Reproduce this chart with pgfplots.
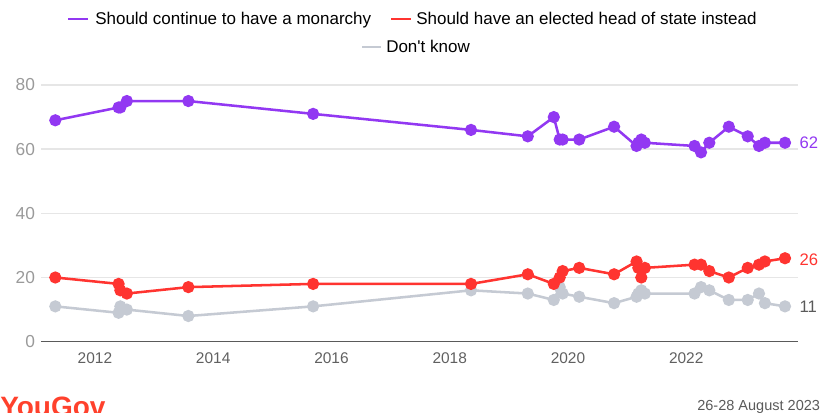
\documentclass[border=0pt]{standalone}
\usepackage{pgfplots}
\pgfplotsset{compat=1.18}
\usepackage{fontspec}
\setmainfont{Liberation Sans}[Ligatures=TeXOff]
\definecolor{mon}{HTML}{9238F2}
\definecolor{rep}{HTML}{FF3430}
\definecolor{dk}{HTML}{C5CAD3}
\definecolor{dklab}{HTML}{5A5A5A}
\definecolor{ytl}{HTML}{9A9A9A}
\definecolor{xtl}{HTML}{606060}
\definecolor{grd}{HTML}{E6E6E6}
\definecolor{ygov}{HTML}{FF412C}

\pgfplotstableread{
x      mon rep dk
2011.33 69 20 11
2012.40 73 18 9
2012.43 73 16 11
2012.54 75 15 10
2013.58 75 17 8
2015.69 71 18 11
2018.36 66 18 16
2019.32 64 21 15
2019.76 70 18 13
2019.86 63 20 17
2019.91 63 22 15
2020.19 63 23 14
2020.78 67 21 12
2021.16 61 25 14
2021.19 62 23 15
2021.24 63 20 16
2021.30 62 23 15
2022.14 61 24 15
2022.25 59 24 17
2022.39 62 22 16
2022.72 67 20 13
2023.04 64 23 13
2023.23 61 24 15
2023.33 62 25 12
2023.67 62 26 11
}\polls

\begin{document}
\begin{tikzpicture}
\useasboundingbox (0,0) rectangle (615pt,309.75pt);
\begin{axis}[
  at={(30.75pt,53.5pt)}, anchor=south west,
  scale only axis, width=567.75pt, height=192.5pt,
  xmin=2011.088, xmax=2023.89, ymin=0, ymax=80,
  clip=false,
  axis line style={draw=none},
  major tick length=0pt,
  ymajorgrids, grid style={grd, line width=1.1pt},
  ytick={0,20,40,60,80},
  xtick={2012,2014,2016,2018,2020,2022},
  /pgf/number format/assume math mode=true,
  /pgf/number format/1000 sep={},
  yticklabel style={font=\fontsize{13}{15}\selectfont, text=ytl, xshift=-1pt},
  xticklabel style={font=\fontsize{11.6}{14}\selectfont, text=xtl, yshift=-5pt},
]
\draw[dklab, line width=1.1pt] (rel axis cs:0,0) -- (rel axis cs:1,0);
\addplot[dk, line width=1.9pt, mark=*, mark size=3.6pt] table[x=x, y=dk] {\polls};
\addplot[rep, line width=1.9pt, mark=*, mark size=3.6pt] table[x=x, y=rep] {\polls};
\addplot[mon, line width=1.9pt, mark=*, mark size=3.6pt] table[x=x, y=mon] {\polls};
\node[anchor=west, inner sep=0pt, text=mon, font=\fontsize{12.5}{14}\selectfont, xshift=1pt] at (axis cs:2023.89,62) {62};
\node[anchor=west, inner sep=0pt, text=rep, font=\fontsize{12.5}{14}\selectfont, xshift=1pt] at (axis cs:2023.89,25.6) {26};
\node[anchor=west, inner sep=0pt, text=dklab, font=\fontsize{12.5}{14}\selectfont, xshift=1pt] at (axis cs:2023.89,11) {11};
\end{axis}
% legend
\draw[mon, line width=2.2pt] (51pt,295.5pt) -- (66pt,295.5pt);
\node[anchor=base west, inner sep=0pt, font=\fontsize{12.75}{15}\selectfont] at (71.25pt,291pt) {Should continue to have a monarchy};
\draw[rep, line width=2.2pt] (293.25pt,295.5pt) -- (308.25pt,295.5pt);
\node[anchor=base west, inner sep=0pt, font=\fontsize{12.75}{15}\selectfont] at (312pt,291pt) {Should have an elected head of state instead};
\draw[dk, line width=2.2pt] (271.5pt,274.5pt) -- (285.75pt,274.5pt);
\node[anchor=base west, inner sep=0pt, font=\fontsize{12.75}{15}\selectfont] at (289.5pt,270pt) {Don't know};
% footer
\node[anchor=base west, inner sep=0pt, text=ygov, font=\fontsize{21}{24}\bfseries\selectfont] at (0pt,-3pt) {YouGov};
\node[anchor=base west, inner sep=0pt, text=dklab, font=\fontsize{10.9}{12}\selectfont] at (522.75pt,1.5pt) {26-28 August 2023};
\end{tikzpicture}
\end{document}
